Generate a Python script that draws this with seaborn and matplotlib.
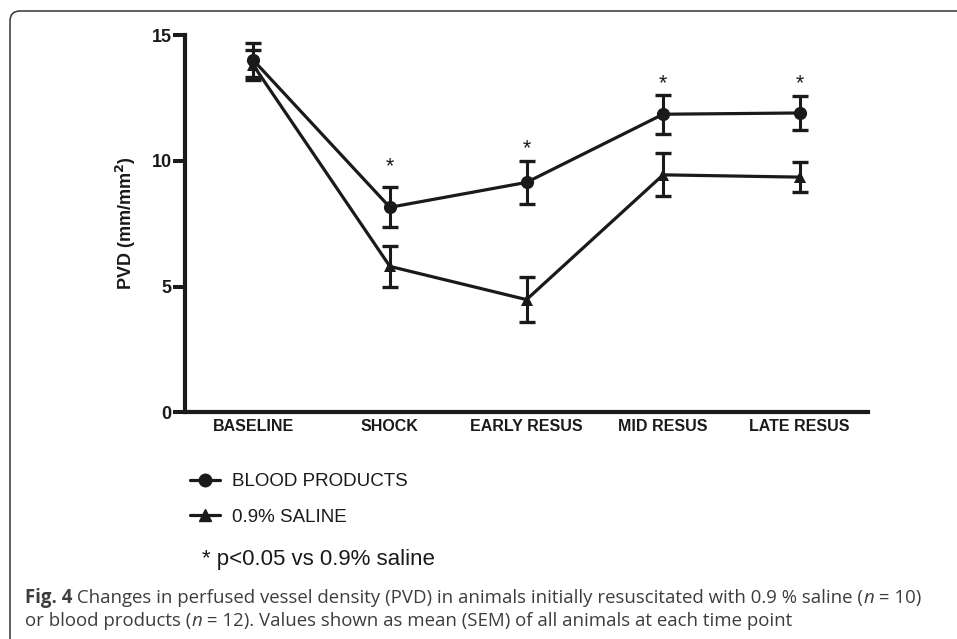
import matplotlib
matplotlib.use("Agg")
import matplotlib.pyplot as plt
from matplotlib.lines import Line2D
from matplotlib.patches import FancyBboxPatch
from matplotlib.transforms import IdentityTransform
import numpy as np
import pandas as pd
import seaborn as sns

# Time points and group summaries (mean and SEM of PVD, mm/mm^2)
timepoints = ["BASELINE", "SHOCK", "EARLY RESUS", "MID RESUS", "LATE RESUS"]
blood_mean = [14.0, 8.15, 9.14, 11.85, 11.9]
blood_sem = [0.67, 0.80, 0.87, 0.77, 0.66]
saline_mean = [13.8, 5.80, 4.48, 9.44, 9.35]
saline_sem = [0.60, 0.83, 0.89, 0.85, 0.60]
significant = [False, True, True, True, True]
groups = ["BLOOD PRODUCTS", "0.9% SALINE"]
y_ticks = [0, 5, 10, 15]

W, H = 957, 639
DPI = 100

sns.set_theme(style="white")
plt.rcParams["font.family"] = ["Liberation Sans", "DejaVu Sans"]

fig = plt.figure(figsize=(W / DPI, H / DPI), dpi=DPI, facecolor="white")
ax = fig.add_axes([185 / W, 1 - 412.3 / H, (868 - 185) / W, (412.3 - 35) / H])

pos = np.arange(len(timepoints))
df = pd.DataFrame({
    "pos": np.concatenate([pos, pos]),
    "value": blood_mean + saline_mean,
    "sem": blood_sem + saline_sem,
    "group": [groups[0]] * len(pos) + [groups[1]] * len(pos),
})

markers = {groups[0]: "o", groups[1]: "^"}
sizes = {groups[0]: 9.5, groups[1]: 9}
for g in groups:
    sub = df[df["group"] == g]
    ax.errorbar(sub["pos"], sub["value"], yerr=sub["sem"], fmt="none",
                ecolor="#1a1a1a", elinewidth=2.2, capsize=5.5, capthick=2.4,
                zorder=2)
    sns.lineplot(data=sub, x="pos", y="value", ax=ax, color="#1a1a1a",
                 marker=markers[g], markersize=sizes[g], markeredgewidth=0,
                 linewidth=2.3, legend=False, zorder=3, errorbar=None)

# significance markers above the blood-product error bars
star_gap = [0, 11, 4.5, 4, 5.5]  # points above the upper cap
for i, sig in enumerate(significant):
    if sig:
        ax.annotate("*", xy=(pos[i], blood_mean[i] + blood_sem[i]),
                    xytext=(0, star_gap[i]), textcoords="offset points",
                    ha="center", va="baseline", fontsize=15.5, color="#1a1a1a")

ax.set_xlim(-0.5, len(timepoints) - 0.5)
ax.set_ylim(0, 15)
ax.set_xticks(pos)
ax.set_xticklabels(timepoints, fontsize=11.5, fontweight="bold", color="#1a1a1a")
ax.set_yticks(y_ticks)
ax.set_yticklabels([str(v) for v in y_ticks], fontsize=13, fontweight="bold",
                   color="#1a1a1a")
ax.tick_params(axis="x", length=0, pad=5)
ax.tick_params(axis="y", length=8.5, width=2.9, pad=1, color="#1a1a1a", left=True)
ax.set_xlabel("")
ax.set_ylabel("PVD (mm/mm$^\\mathbf{2}$)", fontsize=13, fontweight="bold",
              color="#1a1a1a", labelpad=10)
for side in ["top", "right"]:
    ax.spines[side].set_visible(False)
for side in ["left", "bottom"]:
    ax.spines[side].set_linewidth(3)
    ax.spines[side].set_color("#1a1a1a")
ax.grid(False)
ax.set_facecolor("none")

# legend below the plot
handles = [
    Line2D([], [], color="#1a1a1a", lw=2.3, marker="o", markersize=9),
    Line2D([], [], color="#1a1a1a", lw=2.3, marker="^", markersize=9),
]
fig.legend(handles, groups, loc="upper left",
           bbox_to_anchor=(190 / W, 1 - 473 / H), frameon=False,
           fontsize=13.5, handlelength=1.6, handletextpad=0.65,
           labelspacing=1.0, borderpad=0, borderaxespad=0,
           labelcolor="#1a1a1a")
fig.text(202 / W, 1 - 560 / H, "* p<0.05 vs 0.9% saline", fontsize=16,
         va="center", ha="left", color="#1a1a1a")

# rounded frame around the figure panel
frame = FancyBboxPatch((10, -30), 1000, H - 11 + 30,
                       boxstyle="round,pad=0,rounding_size=10",
                       transform=IdentityTransform(), fill=False,
                       edgecolor="#333333", linewidth=1.1)
fig.patches.append(frame)

# caption with mixed weights and italics
renderer = fig.canvas.get_renderer()


def draw_runs(x_px, y_px, runs):
    x = x_px
    for s, props in runs:
        t = fig.text(x / W, 1 - y_px / H, s, fontsize=13.4, va="center",
                     ha="left", color="#3d3d3d",
                     family=["Open Sans", "DejaVu Sans"], **props)
        x += t.get_window_extent(renderer).width


draw_runs(25, 598, [
    ("Fig. 4", {"fontweight": "bold"}),
    (" Changes in perfused vessel density (PVD) in animals initially "
     "resuscitated with 0.9 % saline (", {}),
    ("n", {"style": "italic"}),
    (" = 10)", {}),
])
draw_runs(25, 621, [
    ("or blood products (", {}),
    ("n", {"style": "italic"}),
    (" = 12). Values shown as mean (SEM) of all animals at each time point", {}),
])

fig.savefig("out.png", dpi=DPI, facecolor="white")
